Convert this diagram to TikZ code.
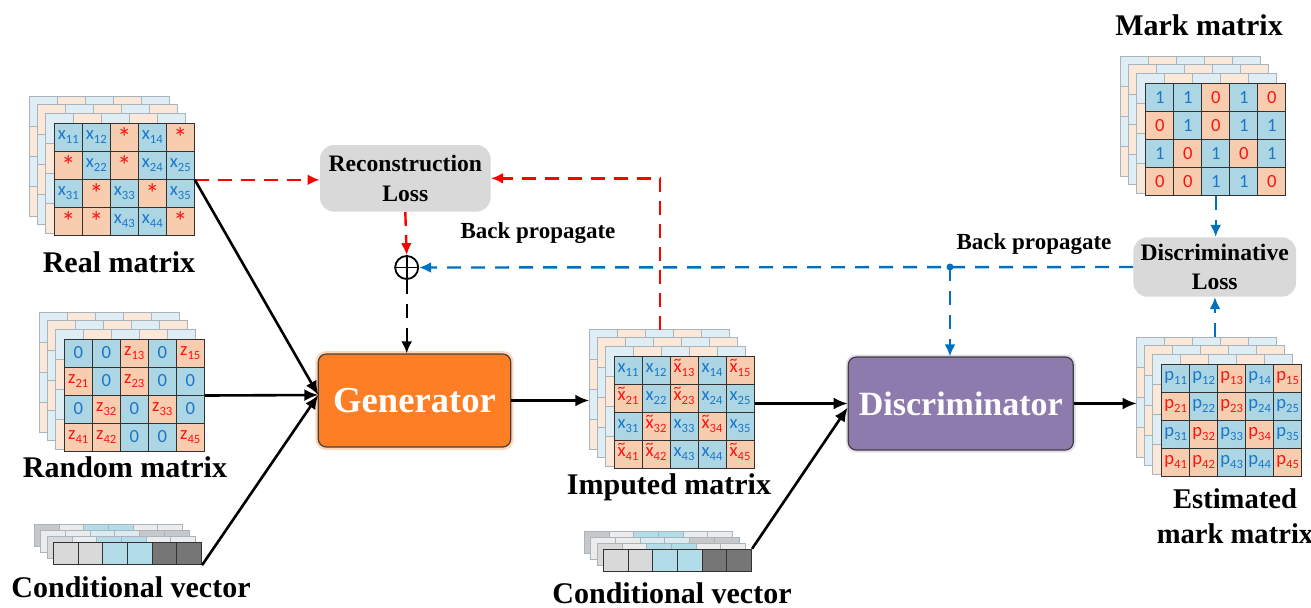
\documentclass[tikz,border=0pt]{standalone}
\usepackage{fontspec}
\setmainfont{Liberation Serif}
\newfontfamily\cellfont{Carlito}
\usetikzlibrary{arrows.meta}
\definecolor{cellblue}{RGB}{172,214,228}
\definecolor{cellpeach}{RGB}{248,204,174}
\definecolor{txtblue}{RGB}{28,118,200}
\definecolor{txtred}{RGB}{250,20,20}
\definecolor{backblue}{RGB}{222,238,244}
\definecolor{backpeach}{RGB}{252,232,216}
\definecolor{backline}{RGB}{170,180,188}
\definecolor{cellline}{RGB}{50,50,50}
\definecolor{genorange}{RGB}{253,126,36}
\definecolor{discpurple}{RGB}{142,123,173}
\definecolor{lossgray}{RGB}{217,217,217}
\definecolor{arrred}{RGB}{255,0,0}
\definecolor{arrblue}{RGB}{0,112,192}
\definecolor{cvlight}{RGB}{217,217,217}
\definecolor{cvblue}{RGB}{178,220,232}
\definecolor{cvdark}{RGB}{118,118,118}
\definecolor{cvwhite}{RGB}{236,236,236}
\definecolor{cvmid}{RGB}{200,200,200}
\definecolor{cvpale}{RGB}{218,236,242}

\newcommand\sbs[1]{\raisebox{-0.2em}{\fontsize{6.3}{7}\selectfont #1}}
\newcommand\xs[1]{x\sbs{#1}}
\newcommand\zs[1]{z\sbs{#1}}
\newcommand\ps[1]{p\sbs{#1}}
\newcommand\xt[1]{\ooalign{x\cr\hidewidth\raisebox{0.42em}{\fontsize{7.5}{7}\selectfont\char"7E}\hidewidth\cr}\sbs{#1}}
\newcommand\astr{\raisebox{-0.45em}{\fontsize{14}{14}\selectfont *}}

\newcommand\backlayers[2]{%
  \foreach \dx/\dy/\k in {-25/-27/0,-17/-19/1,-9/-10/0}{%
    \foreach \r in {0,...,3}{%
      \foreach \c in {0,...,4}{%
        \pgfmathtruncatemacro\pp{mod(\r+\c+\k,2)}%
        \ifnum\pp=0 \def\fc{backblue}\else\def\fc{backpeach}\fi
        \draw[backcell,fill=\fc] (#1+\dx+\c*28,#2+\dy+\r*30) rectangle ++(28,30);
      }}}}

\newcommand\frontgrid[4]{%
  \foreach [count=\i from 0] \cst/\cval in {#4}{%
    \pgfmathtruncatemacro\cc{mod(\i,5)}%
    \pgfmathtruncatemacro\rr{div(\i,5)}%
    \node[\cst] (#1-\i) at (#2+\cc*28+14,#3+\rr*28+14) {\cval};
  }}

\newcommand\condvec[3]{%
  \foreach \fc [count=\c from 0] in {cvmid,cvwhite,cvblue,cvblue,cvwhite,cvwhite}{%
    \draw[backcell,fill=\fc] (#2-19+\c*24.7,#3-18) rectangle ++(24.7,22);}
  \foreach \fc [count=\c from 0] in {cvwhite,cvwhite,cvpale,cvpale,cvmid,cvmid}{%
    \draw[backcell,fill=\fc] (#2-12.5+\c*24.7,#3-12) rectangle ++(24.7,22);}
  \foreach \fc [count=\c from 0] in {cvlight,cvwhite,cvblue,cvblue,cvwhite,cvwhite}{%
    \draw[backcell,fill=\fc] (#2-6+\c*24.7,#3-6) rectangle ++(24.7,22);}
  \foreach \fc [count=\c from 0] in {cvlight,cvlight,cvblue,cvblue,cvdark,cvdark}{%
    \node[cvcell,fill=\fc] (#1-\c) at (#2+\c*24.7+12.35,#3+11) {};}
}

\begin{document}
\begin{tikzpicture}[x=0.5pt,y=-0.5pt,
  backcell/.style={draw=backline,line width=0.45pt},
  cellbase/.style={draw=cellline,line width=0.5pt,minimum width=14pt,minimum height=14pt,inner sep=0pt,
    font=\cellfont\fontsize{9.3}{10}\selectfont},
  bc/.style={cellbase,fill=cellblue,text=txtblue},
  pc/.style={cellbase,fill=cellpeach,text=txtred},
  cvcell/.style={draw=cellline,line width=0.5pt,minimum width=12.35pt,minimum height=11pt,inner sep=0pt},
  lbl/.style={font=\bfseries\fontsize{15}{17.5}\selectfont,inner sep=0pt},
  bp/.style={font=\bfseries\fontsize{11.5}{13}\selectfont,inner sep=0pt},
  lossbox/.style={fill=lossgray,rounded corners=7pt,inner sep=0pt,align=center,
    font=\bfseries\fontsize{11.8}{15}\selectfont},
  blk/.style={line width=1.3pt,-{Latex[length=7pt,width=6pt]}},
  rdash/.style={arrred,line width=1.2pt,dash pattern=on 7pt off 4.5pt,-{Latex[length=6pt,width=5.5pt]}},
  bdash/.style={arrblue,line width=1.2pt,dash pattern=on 7pt off 5pt,-{Latex[length=6pt,width=5.5pt]}},
  kdash/.style={black,line width=1.2pt,dash pattern=on 7pt off 5pt,-{Latex[length=6pt,width=5.5pt]}},
]
\useasboundingbox (0,0) rectangle (1311,607);

% ---------- matrices ----------
\backlayers{54.3}{123.3}
\frontgrid{real}{54.3}{123.3}{bc/\xs{11},bc/\xs{12},pc/\astr,bc/\xs{14},pc/\astr,
  pc/\astr,bc/\xs{22},pc/\astr,bc/\xs{24},bc/\xs{25},
  bc/\xs{31},pc/\astr,bc/\xs{33},pc/\astr,bc/\xs{35},
  pc/\astr,pc/\astr,bc/\xs{43},bc/\xs{44},pc/\astr}

\backlayers{64.3}{339}
\frontgrid{rand}{64.3}{339}{bc/0,bc/0,pc/\zs{13},bc/0,pc/\zs{15},
  pc/\zs{21},bc/0,pc/\zs{23},bc/0,bc/0,
  bc/0,pc/\zs{32},bc/0,pc/\zs{33},bc/0,
  pc/\zs{41},pc/\zs{42},bc/0,bc/0,pc/\zs{45}}

\backlayers{614}{356}
\frontgrid{imp}{614}{356}{bc/\xs{11},bc/\xs{12},pc/\xt{13},bc/\xs{14},pc/\xt{15},
  pc/\xt{21},bc/\xs{22},pc/\xt{23},bc/\xs{24},bc/\xs{25},
  bc/\xs{31},pc/\xt{32},bc/\xs{33},pc/\xt{34},bc/\xs{35},
  pc/\xt{41},pc/\xt{42},bc/\xs{43},bc/\xs{44},pc/\xt{45}}

\backlayers{1145.7}{83.3}
\frontgrid{mark}{1145.7}{83.3}{bc/1,bc/1,pc/0,bc/1,pc/0,
  pc/0,bc/1,pc/0,bc/1,bc/1,
  bc/1,pc/0,bc/1,pc/0,bc/1,
  pc/0,pc/0,bc/1,bc/1,pc/0}

\backlayers{1161.7}{364}
\frontgrid{est}{1161.7}{364}{bc/\ps{11},bc/\ps{12},pc/\ps{13},bc/\ps{14},pc/\ps{15},
  pc/\ps{21},bc/\ps{22},pc/\ps{23},bc/\ps{24},bc/\ps{25},
  bc/\ps{31},pc/\ps{32},bc/\ps{33},pc/\ps{34},bc/\ps{35},
  pc/\ps{41},pc/\ps{42},bc/\ps{43},bc/\ps{44},pc/\ps{45}}

\condvec{cvl}{53.3}{542.7}
\condvec{cvr}{603.3}{549.3}

% ---------- labels ----------
\node[lbl] (lreal) at (119,262) {Real matrix};
\node[lbl] (lrand) at (125,467) {Random matrix};
\node[lbl] (lcv1) at (131,587) {Conditional vector};
\node[lbl] (limp) at (669,487) {Imputed matrix};
\node[lbl] (lcv2) at (672,593) {Conditional vector};
\node[lbl] (lmark) at (1199,25) {Mark matrix};
\node[lbl,align=center,font=\bfseries\fontsize{14.3}{17.5}\selectfont] (lest) at (1235,516) {Estimated\\mark matrix};
\node[bp] (bp1) at (538,233) {Back propagate};
\node[bp] (bp2) at (1034,244) {Back propagate};

% ---------- blocks ----------
\node[fill=genorange,draw=black!75,line width=0.6pt,rounded corners=4pt,
  preaction={draw=genorange!30,line width=3pt},
  minimum width=96.2pt,minimum height=46.5pt,text=white,
  font=\bfseries\fontsize{18.3}{20}\selectfont] (gen) at (414.5,400.5) {Generator};
\node[fill=discpurple,draw=black!75,line width=0.6pt,rounded corners=4pt,
  preaction={draw=discpurple!25,line width=2.5pt},
  minimum width=112.5pt,minimum height=46.5pt,text=white,
  font=\bfseries\fontsize{17}{20}\selectfont] (disc) at (960.8,403.5) {Discriminator};
\node[lossbox,minimum width=85.3pt,minimum height=33.3pt] (rloss) at (405.3,178.3) {Reconstruction\\Loss};
\node[lossbox,minimum width=81.3pt,minimum height=29.7pt,font=\bfseries\fontsize{11.8}{14.2}\selectfont] (dloss) at (1214.7,267) {Discriminative\\Loss};
\node[draw,circle,minimum size=11.5pt,inner sep=0pt,line width=0.9pt] (plus) at (406.7,267.5) {};
\draw[line width=0.9pt] (plus.north) -- (plus.south) (plus.west) -- (plus.east);

% ---------- coordinates ----------
\coordinate (genin) at (318.3,395);
\coordinate (impin) at (589.3,400.5);
\coordinate (imptop) at (660,330);
\coordinate (estin) at (1136.7,403.5);
\coordinate (esttop) at (1215,337);
\coordinate (jn) at (950,267);

% ---------- connectors ----------
\draw[rdash] (real-9.south east) -- (real-9.south east -| rloss.west);
\draw[rdash] (imptop) |- (rloss.east);
\draw[rdash] (rloss.south) -- (plus.north);
\draw[bdash] (dloss.west) -- (plus.east);
\fill[arrblue] (jn) circle (3.5);
\draw[bdash] (jn) -- (jn |- disc.north);
\draw[bdash] (mark-17.south) -- (mark-17.south |- dloss.north);
\draw[bdash] (esttop) -- (esttop |- dloss.south);
\draw[kdash] (plus.south) -- (plus.south |- gen.north);

\draw[blk] (real-9.south east) -- (genin);
\draw[blk] (rand-9.south east) -- (genin);
\draw[blk] (cvl-5.south east) -- (genin);
\draw[blk] (gen.east) -- (impin);
\draw[blk] (disc.west -| imp-9.east) -- (disc.west);
\draw[blk] (cvr-5.north east) -- ([yshift=-2pt]disc.west);
\draw[blk] (disc.east) -- (estin);
\end{tikzpicture}
\end{document}
